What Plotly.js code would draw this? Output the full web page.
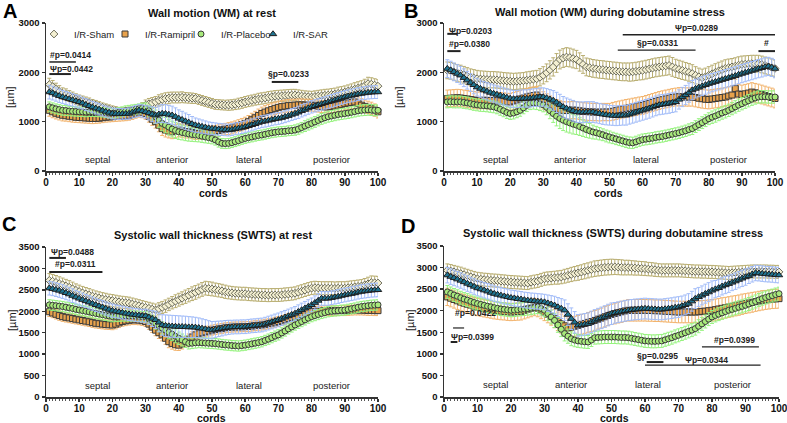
<!DOCTYPE html>
<html><head><meta charset="utf-8">
<script src="https://cdn.plot.ly/plotly-3.0.1.min.js"></script>
<style>html,body{margin:0;padding:0;background:#fff}#chart{width:787px;height:423px}</style>
</head><body><div id="chart"></div>
<script>
// ---------------- DATA ----------------
const groups = ["I/R-Sham", "I/R-Ramipril", "I/R-Placebo", "I/R-SAR"];
const regionLabels = ["septal", "anterior", "lateral", "posterior"];
const regionCords = [15.5, 38, 61, 86];
const panelTitles = ["Wall motion (WM) at rest", "Wall motion (WM) during dobutamine stress",
  "Systolic wall thickness (SWTS) at rest", "Systolic wall thickness (SWTS) during dobutamine stress"];
const panelLetters = ["A", "B", "C", "D"];
const cords = Array.from({length: 100}, (_, i) => i + 1);

// Panel A: wall motion at rest (µm)
const wmRestSham = [1750,1710,1660,1610,1570,1550,1520,1490,1460,1435,1420,1400,1380,1355,1335,1310,1290,1270,1250,1230,
 1215,1200,1195,1190,1200,1210,1220,1230,1280,1335,1360,1380,1400,1430,1450,1470,1480,1490,1490,1490,
 1495,1485,1480,1475,1470,1450,1430,1410,1390,1370,1350,1345,1340,1335,1335,1340,1350,1365,1380,1400,
 1415,1430,1445,1460,1470,1480,1495,1505,1515,1520,1525,1530,1535,1540,1540,1530,1520,1510,1505,1500,
 1510,1520,1525,1535,1540,1550,1560,1575,1585,1600,1620,1640,1660,1680,1700,1730,1770,1760,1740,1720];
const wmRestRamipril = [1230,1200,1170,1150,1130,1120,1110,1100,1090,1085,1080,1075,1070,1065,1065,1070,1080,1090,1095,1100,
 1105,1110,1115,1120,1130,1150,1175,1200,1190,1165,1110,1050,1000,930,860,830,810,795,810,830,
 815,800,795,780,760,765,770,780,790,795,805,820,835,850,860,875,895,920,940,965,
 1000,1040,1080,1125,1165,1195,1220,1245,1270,1290,1305,1315,1325,1330,1335,1340,1340,1335,1335,1335,
 1325,1315,1305,1300,1300,1310,1320,1335,1350,1370,1380,1390,1400,1370,1335,1310,1290,1270,1235,1200];
const wmRestPlacebo = [1300,1280,1260,1245,1230,1225,1215,1210,1205,1200,1200,1195,1200,1200,1200,1195,1190,1180,1170,1165,
 1175,1190,1205,1220,1230,1240,1250,1260,1270,1270,1220,1160,1100,1030,965,930,890,850,820,795,
 780,765,750,740,730,720,705,690,675,660,630,590,560,555,560,575,595,615,640,660,
 675,690,705,720,730,745,760,775,785,795,800,805,815,820,830,850,880,910,940,965,
 995,1025,1055,1080,1100,1115,1130,1145,1155,1165,1175,1190,1205,1220,1230,1235,1240,1235,1230,1230];
const wmRestSAR = [1600,1580,1550,1525,1500,1480,1460,1440,1420,1400,1375,1345,1320,1295,1270,1250,1225,1205,1185,1165,
 1160,1155,1160,1160,1165,1190,1210,1230,1215,1200,1175,1150,1130,1150,1165,1160,1145,1130,1100,1065,
 1040,1010,985,955,930,915,900,885,870,860,855,845,840,835,830,840,855,865,880,895,
 915,935,955,980,1000,1010,1025,1040,1055,1065,1080,1100,1120,1145,1165,1190,1220,1245,1275,1300,
 1320,1340,1360,1380,1400,1420,1440,1460,1480,1500,1515,1530,1545,1560,1570,1580,1590,1595,1600,1600];

// Panel B: wall motion during dobutamine stress (µm)
const wmStressSham = [2040,2030,2010,1990,1975,1950,1925,1900,1885,1870,1865,1860,1855,1850,1850,1845,1840,1830,1825,1820,
 1815,1820,1825,1830,1840,1850,1860,1870,1900,1940,1990,2050,2110,2190,2260,2290,2310,2300,2280,2260,
 2210,2160,2110,2095,2080,2070,2060,2055,2045,2040,2030,2025,2015,2010,2010,2005,2010,2020,2030,2040,
 2055,2070,2085,2100,2110,2120,2130,2140,2110,2080,2060,2040,2020,2000,1975,1940,1910,1890,1910,1940,
 1970,2000,2030,2055,2080,2095,2110,2125,2145,2160,2165,2170,2175,2175,2175,2160,2140,2120,2100,2080];
const wmStressRamipril = [1470,1475,1480,1485,1480,1470,1460,1450,1440,1430,1430,1435,1430,1430,1430,1425,1420,1415,1405,1400,
 1420,1440,1460,1480,1500,1515,1530,1540,1490,1430,1390,1345,1300,1275,1250,1230,1225,1230,1235,1230,
 1220,1210,1205,1200,1195,1195,1190,1195,1195,1195,1210,1225,1240,1255,1270,1280,1295,1305,1320,1330,
 1350,1370,1390,1410,1430,1445,1460,1475,1490,1500,1505,1505,1500,1500,1500,1490,1475,1465,1455,1450,
 1460,1470,1480,1490,1500,1520,1540,1670,1560,1550,1565,1580,1600,1585,1570,1550,1530,1510,1490,1470];
const wmStressPlacebo = [1400,1405,1400,1400,1400,1390,1380,1365,1350,1340,1330,1325,1320,1310,1300,1280,1250,1220,1185,1165,
 1175,1200,1230,1280,1330,1370,1380,1375,1360,1340,1290,1225,1165,1110,1065,1030,1000,975,950,930,
 900,870,840,815,790,775,755,735,710,690,670,650,630,610,590,575,570,590,615,635,
 645,655,665,680,690,700,715,730,745,760,775,795,815,840,860,900,940,980,1020,1060,
 1090,1115,1145,1175,1200,1230,1265,1300,1335,1365,1395,1425,1455,1480,1500,1505,1505,1500,1500,1500];
const wmStressSAR = [2075,2045,2010,1975,1940,1890,1840,1790,1745,1700,1670,1640,1615,1590,1570,1550,1530,1510,1490,1470,
 1460,1460,1465,1470,1470,1475,1485,1490,1500,1500,1480,1455,1430,1390,1345,1300,1270,1245,1220,1195,
 1190,1190,1195,1195,1195,1180,1165,1150,1140,1130,1125,1120,1125,1130,1130,1150,1170,1190,1210,1230,
 1250,1270,1295,1320,1340,1350,1360,1370,1385,1400,1450,1500,1540,1590,1640,1670,1695,1720,1745,1770,
 1790,1810,1830,1850,1870,1890,1910,1930,1955,1975,1995,2015,2035,2055,2075,2090,2110,2120,2100,2075];

// Panel C: systolic wall thickness at rest (µm)
const swtsRestSham = [2720,2700,2675,2645,2620,2590,2560,2525,2490,2460,2430,2405,2380,2355,2330,2310,2290,2275,2260,2250,
 2235,2220,2210,2200,2190,2170,2150,2130,2110,2090,2070,2050,2030,2060,2090,2120,2160,2200,2235,2270,
 2305,2340,2375,2410,2440,2475,2510,2540,2530,2520,2505,2490,2475,2455,2440,2430,2420,2415,2410,2410,
 2400,2395,2390,2385,2380,2380,2375,2380,2380,2380,2385,2395,2400,2410,2420,2445,2470,2495,2520,2540,
 2550,2545,2540,2540,2540,2540,2535,2540,2540,2540,2550,2560,2570,2580,2590,2615,2640,2670,2665,2660];
const swtsRestRamipril = [1990,1960,1930,1900,1875,1860,1845,1830,1815,1800,1785,1770,1755,1735,1720,1710,1700,1690,1685,1680,
 1700,1730,1760,1775,1790,1800,1800,1795,1780,1760,1700,1630,1560,1500,1450,1370,1290,1250,1220,1210,
 1240,1290,1350,1400,1450,1475,1500,1520,1540,1560,1575,1590,1600,1615,1625,1630,1635,1635,1640,1640,
 1645,1655,1665,1675,1680,1695,1710,1725,1745,1760,1780,1805,1830,1850,1875,1900,1925,1950,1970,1990,
 2000,2005,2010,2015,2015,2015,2010,2015,2015,2015,2020,2025,2030,2030,2030,2025,2020,2020,2015,2015];
const swtsRestPlacebo = [2150,2140,2130,2120,2110,2095,2080,2065,2045,2030,2015,2000,1985,1965,1950,1935,1920,1905,1890,1875,
 1880,1885,1890,1890,1890,1890,1885,1880,1875,1875,1830,1775,1720,1665,1610,1560,1510,1465,1415,1370,
 1330,1290,1250,1255,1265,1270,1265,1260,1255,1250,1245,1235,1225,1215,1210,1200,1195,1190,1200,1210,
 1225,1240,1255,1270,1290,1320,1350,1385,1420,1450,1495,1540,1590,1635,1680,1720,1760,1800,1840,1875,
 1900,1925,1950,1970,1990,2000,2010,2015,2025,2030,2045,2060,2075,2095,2110,2120,2130,2140,2145,2150];
const swtsRestSAR = [2540,2525,2505,2485,2460,2430,2400,2365,2330,2300,2270,2240,2210,2180,2150,2120,2095,2065,2040,2015,
 2000,1985,1970,1950,1935,1925,1915,1905,1895,1890,1860,1830,1800,1740,1680,1665,1655,1650,1645,1640,
 1640,1635,1630,1630,1625,1615,1600,1585,1570,1560,1575,1590,1600,1615,1625,1630,1635,1635,1640,1640,
 1650,1660,1665,1675,1680,1700,1725,1750,1775,1800,1830,1860,1890,1920,1950,1990,2030,2070,2110,2150,
 2200,2250,2300,2300,2300,2315,2330,2345,2365,2380,2395,2410,2425,2445,2460,2470,2480,2490,2495,2500];

// Panel D: systolic wall thickness during dobutamine stress (µm)
const swtsStressSham = [2935,2920,2900,2880,2860,2835,2810,2785,2760,2740,2730,2720,2715,2705,2700,2695,2685,2680,2670,2665,
 2660,2655,2650,2645,2640,2660,2675,2690,2715,2740,2750,2755,2765,2770,2780,2800,2820,2840,2860,2875,
 2895,2915,2935,2955,2975,2985,2995,3005,3010,3015,3015,3010,3005,3000,3000,2995,2990,2985,2980,2975,
 2965,2960,2950,2940,2935,2935,2935,2935,2935,2935,2930,2925,2920,2915,2910,2910,2905,2905,2900,2900,
 2895,2890,2885,2880,2875,2880,2885,2890,2895,2900,2905,2910,2910,2910,2910,2910,2905,2905,2900,2900];
const swtsStressRamipril = [2320,2290,2260,2230,2200,2175,2150,2130,2105,2085,2070,2055,2040,2025,2010,2000,1990,1985,1975,1970,
 1975,1980,1985,2010,2035,2060,2085,2060,2015,1970,1920,1870,1815,1755,1700,1650,1600,1620,1640,1660,
 1685,1705,1730,1750,1775,1805,1830,1860,1890,1915,1935,1955,1975,1995,2010,2010,2010,2010,2010,2010,
 2005,2005,2000,2000,1995,1990,1985,1980,1975,1970,1970,1970,1970,1970,1970,1975,1985,1990,2000,2010,
 2025,2040,2055,2070,2085,2100,2115,2130,2150,2165,2180,2195,2210,2225,2240,2250,2260,2270,2275,2280];
const swtsStressPlacebo = [2435,2400,2365,2335,2300,2270,2245,2215,2190,2165,2145,2125,2105,2090,2070,2055,2040,2030,2020,2010,
 2015,2025,2035,2040,2050,2060,2075,2085,2050,2010,1935,1855,1775,1670,1570,1470,1410,1350,1320,1300,
 1290,1280,1275,1320,1375,1380,1385,1390,1390,1390,1390,1385,1380,1380,1375,1360,1345,1330,1315,1300,
 1295,1290,1290,1295,1300,1325,1350,1375,1405,1430,1460,1490,1520,1550,1585,1640,1695,1750,1805,1855,
 1890,1920,1950,1980,2010,2030,2055,2080,2100,2125,2155,2185,2215,2250,2280,2305,2330,2350,2375,2395];
const swtsStressSAR = [2825,2790,2760,2730,2700,2665,2630,2595,2560,2525,2500,2475,2450,2420,2395,2375,2355,2335,2320,2300,
 2290,2275,2265,2250,2240,2230,2225,2215,2210,2200,2175,2150,2125,2085,2050,2010,1910,1815,1730,1660,
 1670,1685,1700,1740,1775,1805,1835,1865,1900,1930,1950,1965,1980,1995,2010,2020,2030,2035,2045,2050,
 2045,2040,2035,2030,2030,2040,2050,2060,2075,2085,2110,2135,2165,2220,2280,2320,2355,2395,2430,2470,
 2500,2530,2565,2595,2625,2655,2685,2720,2750,2780,2810,2845,2875,2870,2860,2850,2845,2840,2830,2825];

// SEM values (µm)
const eWmRestSham = [130,125,120,120,115,115,110,110,105,105,100,100,100,95,95,95,90,90,90,90,
 90,90,90,95,95,100,100,100,105,105,110,110,110,115,115,115,115,110,110,110,110,105,105,105,100,100,100,100,100,100,
 100,100,100,100,105,105,105,110,110,110,110,110,110,115,115,115,115,115,115,115,115,115,115,115,115,115,115,115,115,115,
 115,115,120,120,120,120,120,125,125,125,125,125,130,130,130,130,130,130,130,130];
const eWmRestRamipril = [120,120,115,115,115,110,110,110,105,105,105,105,105,105,100,100,100,100,100,100,
 100,100,100,100,100,105,105,110,110,115,120,125,130,135,140,140,140,140,135,135,130,130,125,125,120,120,120,115,115,115,
 115,115,115,115,120,120,120,120,125,125,125,130,130,130,130,130,130,130,125,125,125,125,125,125,120,120,120,120,120,120,
 120,120,120,120,125,125,125,125,130,130,130,130,130,130,130,130,125,125,125,125];
const eWmRestPlacebo = [100,100,100,100,100,100,95,95,95,95,95,95,95,95,95,95,95,95,95,95,
 95,95,95,100,100,100,100,100,105,110,115,125,135,145,150,155,160,160,160,155,150,150,145,140,135,130,125,120,115,110,
 105,105,100,100,100,100,100,100,100,100,100,100,100,100,100,100,100,100,100,100,100,100,100,100,105,105,105,110,110,110,
 110,110,110,110,110,110,110,110,110,110,110,110,110,110,110,110,110,110,110,110];
const eWmRestSAR = [140,140,135,135,130,130,130,125,125,125,120,120,120,115,115,115,110,110,110,110,
 110,110,110,110,115,115,120,120,125,130,140,150,160,170,180,185,185,185,180,175,170,165,160,150,145,140,135,130,125,125,
 120,120,120,120,120,120,120,120,120,120,120,120,120,120,120,120,120,120,120,120,120,120,120,120,120,125,125,125,125,125,
 125,125,125,125,130,130,130,130,130,130,130,130,130,130,130,130,130,130,130,130];
const eWmStressSham = [170,170,170,170,170,170,170,170,170,170,165,165,165,165,165,165,165,165,165,165,
 165,165,165,165,170,170,170,170,175,175,180,185,185,190,190,190,190,190,190,185,185,180,180,180,180,180,180,180,180,180,
 180,180,180,180,180,185,185,185,185,190,190,190,190,190,190,190,190,190,190,185,185,185,180,180,180,175,175,175,175,175,
 175,175,175,175,175,175,170,170,170,170,170,170,170,170,170,170,170,170,170,170];
const eWmStressRamipril = [170,170,170,170,170,170,170,170,170,170,170,170,170,170,170,170,170,170,170,170,
 170,170,170,175,175,175,175,175,175,175,175,175,175,175,175,175,175,175,175,175,175,175,175,175,175,175,175,175,175,175,
 180,180,180,180,180,180,180,180,180,180,180,180,180,180,180,180,180,180,180,180,185,185,185,185,185,190,190,190,190,190,
 190,190,190,190,190,190,190,190,190,190,190,190,190,190,190,190,190,190,190,190];
const eWmStressPlacebo = [120,120,120,120,120,120,120,120,120,120,120,120,120,120,120,120,120,120,120,120,
 120,120,120,120,125,125,125,130,135,140,150,165,180,195,205,210,210,205,200,190,180,170,160,150,140,130,125,120,120,120,
 115,115,115,115,115,115,115,115,115,115,115,115,115,115,115,115,115,115,115,115,115,115,115,115,120,120,120,120,120,120,
 125,125,125,125,125,125,125,125,125,125,125,125,125,125,125,125,125,125,125,125];
const eWmStressSAR = [180,180,180,180,180,180,180,180,180,180,175,175,175,175,175,175,175,175,175,175,
 175,175,175,175,175,180,180,180,185,185,190,195,200,205,210,210,210,210,210,210,210,210,210,210,210,205,205,205,205,200,
 200,200,200,200,200,200,200,200,200,200,200,200,200,200,200,200,200,200,200,200,195,195,195,195,195,190,190,190,190,190,
 185,185,185,185,185,185,185,185,185,185,185,185,185,185,185,185,185,185,185,185];
const eSwtsRestSham = [160,160,160,160,155,155,155,155,150,150,150,150,150,145,145,145,145,145,140,140,
 140,140,140,140,140,140,140,140,140,140,140,140,140,140,140,145,145,145,150,150,150,155,155,160,160,160,160,160,160,160,
 155,155,155,155,150,150,150,150,150,150,150,150,150,150,150,150,150,150,150,150,150,150,150,150,150,150,150,150,150,150,
 150,150,150,150,150,150,150,150,150,150,150,150,150,150,150,150,155,155,155,155];
const eSwtsRestRamipril = [110,110,110,110,110,110,110,110,110,110,110,110,110,110,110,110,110,110,110,110,
 110,110,110,110,110,110,110,110,110,115,120,125,130,135,140,140,140,135,130,125,120,120,120,120,115,115,115,115,115,115,
 115,115,115,115,115,115,115,115,115,115,115,115,115,115,115,115,115,115,115,115,115,115,115,115,115,115,115,115,115,115,
 115,115,115,115,115,115,115,115,115,115,115,115,115,115,115,115,115,115,115,115];
const eSwtsRestPlacebo = [120,120,120,120,120,120,120,120,120,120,120,120,120,120,120,120,120,120,120,120,
 120,120,120,120,120,120,120,120,120,120,125,130,135,140,145,150,150,150,150,145,140,135,130,125,125,120,120,120,120,120,
 120,120,120,120,120,120,120,120,120,120,120,120,120,120,120,120,120,120,120,120,120,120,120,120,120,120,120,120,120,120,
 120,120,120,120,120,120,120,120,120,120,120,120,120,120,120,120,120,120,120,120];
const eSwtsRestSAR = [160,160,160,160,160,160,160,160,160,160,155,155,155,155,155,155,155,155,155,155,
 150,150,150,150,150,150,150,150,150,160,170,185,200,220,240,250,255,255,255,255,250,250,245,240,235,230,225,220,210,200,
 190,180,175,170,165,160,160,160,160,160,160,160,160,160,160,160,160,160,160,160,160,160,160,160,160,160,160,160,160,160,
 160,160,160,160,160,160,160,160,160,160,160,160,160,160,160,160,160,160,160,160];
const eSwtsStressSham = [150,150,150,150,150,150,150,150,150,150,150,150,150,150,150,150,150,150,150,150,
 150,150,150,150,150,150,150,150,150,150,150,150,150,155,155,160,160,165,165,170,170,175,175,175,180,180,180,180,180,180,
 175,175,175,170,170,165,165,160,160,160,155,155,155,150,150,150,150,150,150,150,150,150,150,150,150,150,150,150,150,150,
 150,150,150,150,150,150,150,150,150,150,150,150,150,150,150,150,150,150,150,150];
const eSwtsStressRamipril = [200,200,200,200,200,200,200,200,200,200,200,200,200,200,200,200,200,200,200,200,
 200,200,200,200,200,200,200,200,200,200,200,205,210,215,220,225,230,230,230,230,230,230,230,230,230,230,230,235,235,235,
 240,240,245,245,250,250,250,250,250,250,250,250,250,250,250,250,250,250,250,250,250,250,250,250,250,250,250,250,250,250,
 245,245,245,240,240,240,235,235,235,230,230,230,225,225,225,220,220,220,220,220];
const eSwtsStressPlacebo = [150,150,150,150,150,150,150,150,150,150,150,150,150,150,150,150,150,150,150,150,
 150,150,150,150,150,150,150,150,150,150,155,160,165,170,170,170,165,160,155,150,150,150,150,150,150,150,150,150,150,150,
 150,150,150,150,150,150,150,150,150,150,150,150,150,150,150,150,150,150,150,150,150,150,150,150,150,150,150,150,150,150,
 150,150,150,150,150,150,150,150,150,150,150,150,150,150,150,150,150,150,150,150];
const eSwtsStressSAR = [180,180,180,180,180,180,180,180,180,180,180,180,180,180,180,180,180,180,180,180,
 180,180,180,180,180,180,180,180,180,180,190,200,210,220,230,240,250,250,250,250,250,250,250,250,250,250,250,250,250,250,
 240,240,240,240,240,240,240,240,240,240,240,240,240,240,240,240,240,240,240,240,230,230,230,230,230,220,220,220,220,220,
 200,200,200,200,200,190,190,190,190,190,180,180,180,180,180,180,180,180,180,180];

// ---------------- STYLE ----------------
const FONT = "Arial, 'Liberation Sans', sans-serif";
const styles = [
  {symbol: "diamond", fill: "#f4f0d2", line: "#6b6b5a", err: "#b9ae72"},
  {symbol: "square", fill: "#e8a24c", line: "#3a3a3a", err: "#f2b46e"},
  {symbol: "circle", fill: "#a8ea7c", line: "#3a3a3a", err: "#96f27e"},
  {symbol: "triangle-up", fill: "#1f7592", line: "#1e1e1e", err: "#a2bcf8"}
];
const panels = [
  {xa: "x", ya: "y", series: [wmRestSham, wmRestRamipril, wmRestPlacebo, wmRestSAR], err: [eWmRestSham, eWmRestRamipril, eWmRestPlacebo, eWmRestSAR]},
  {xa: "x2", ya: "y2", series: [wmStressSham, wmStressRamipril, wmStressPlacebo, wmStressSAR], err: [eWmStressSham, eWmStressRamipril, eWmStressPlacebo, eWmStressSAR]},
  {xa: "x3", ya: "y3", series: [swtsRestSham, swtsRestRamipril, swtsRestPlacebo, swtsRestSAR], err: [eSwtsRestSham, eSwtsRestRamipril, eSwtsRestPlacebo, eSwtsRestSAR]},
  {xa: "x4", ya: "y4", series: [swtsStressSham, swtsStressRamipril, swtsStressPlacebo, swtsStressSAR], err: [eSwtsStressSham, eSwtsStressRamipril, eSwtsStressPlacebo, eSwtsStressSAR]}
];

const traces = [];
panels.forEach((p, pi) => {
  p.series.forEach((vals, gi) => {
    const s = styles[gi];
    traces.push({
      type: "scatter", mode: "markers", x: cords, y: vals, xaxis: p.xa, yaxis: p.ya,
      name: groups[gi], showlegend: pi === 0, legend: gi === 0 ? "legend" : "legend" + (gi + 1),
      cliponaxis: false,
      marker: {symbol: s.symbol, size: gi === 3 ? 6.5 : 6, color: s.fill, line: {color: s.line, width: 1}},
      error_y: {type: "data", array: p.err[gi], visible: true, color: s.err, thickness: 1, width: 2}
    });
  });
});

const W = 787, H = 423;
const px = v => v / W, py = v => 1 - v / H;

function xax(d) {
  return {domain: d, range: [0, 100], dtick: 10, tick0: 0, showline: true, linecolor: "#333", linewidth: 1.5,
    ticks: "outside", ticklen: 3, tickwidth: 1.5, tickcolor: "#333", showgrid: false, zeroline: false,
    ticklabeloverflow: "allow", ticklabelstandoff: -2,
    minor: {dtick: 1, ticks: "outside", ticklen: 2, tickwidth: 1, tickcolor: "#555", showgrid: false},
    tickfont: {family: FONT, size: 10, color: "#111", weight: "bold"}, fixedrange: true};
}
function yax(d, max, dt, anchor) {
  return {domain: d, range: [0, max], dtick: dt, tick0: 0, anchor: anchor, showline: true, linecolor: "#333", linewidth: 1.5,
    ticks: "outside", ticklen: 3, tickwidth: 1.5, tickcolor: "#333", showgrid: false, zeroline: false,
    ticklabeloverflow: "allow",
    tickfont: {family: FONT, size: 9.5, color: "#111", weight: "bold"}, fixedrange: true};
}

const ann = [];
const shapes = [];
// Panel letters & titles
const letterPos = [[10, 11], [411, 11], [9, 224], [408, 226]];
const titlePos = [[212, 13], [609.5, 12], [212.5, 235], [613, 233]];
panelLetters.forEach((L, i) => {
  ann.push({xref: "paper", yref: "paper", x: px(letterPos[i][0]), y: py(letterPos[i][1]), text: L, showarrow: false,
    xanchor: "center", yanchor: "middle", font: {family: FONT, size: 20, color: "#000", weight: "bold"}});
  ann.push({xref: "paper", yref: "paper", x: px(titlePos[i][0]), y: py(titlePos[i][1]), text: panelTitles[i], showarrow: false,
    xanchor: "center", yanchor: "middle", font: {family: FONT, size: 11, color: "#111", weight: "bold"}});
});
// Axis titles
const cordsPos = [[213, 193], [608, 193], [212, 418], [614, 418]];
const umPos = [[10, 97], [399, 97], [12, 320], [410, 320]];
for (let i = 0; i < 4; i++) {
  ann.push({xref: "paper", yref: "paper", x: px(cordsPos[i][0]), y: py(cordsPos[i][1]), text: "cords", showarrow: false,
    xanchor: "center", yanchor: "middle", font: {family: FONT, size: 10.5, color: "#111", weight: "bold"}});
  ann.push({xref: "paper", yref: "paper", x: px(umPos[i][0]), y: py(umPos[i][1]), text: "[µm]", showarrow: false, textangle: -90,
    xanchor: "center", yanchor: "middle", font: {family: FONT, size: 11, color: "#222"}});
}
// Region labels
const regionY = [225, 225, 280, 280];
panels.forEach((p, i) => {
  regionLabels.forEach((r, k) => {
    ann.push({xref: p.xa, yref: p.ya, x: regionCords[k], y: regionY[i], text: r, showarrow: false,
      xanchor: "center", yanchor: "middle", font: {family: FONT, size: 9.5, color: "#222"}});
  });
});
// Significance labels and bars
function sig(pi, text, x, y, anchor) {
  const p = panels[pi];
  ann.push({xref: p.xa, yref: p.ya, x: x, y: y, text: text, showarrow: false, xanchor: anchor || "left", yanchor: "middle",
    font: {family: FONT, size: 8.5, color: "#222", weight: "bold"}});
}
function bar(pi, x0, x1, y, w) {
  const p = panels[pi];
  shapes.push({type: "line", xref: p.xa, yref: p.ya, x0: x0, x1: x1, y0: y, y1: y, line: {color: "#222", width: w || 1.5}});
}
sig(0, "#p=0.0414", 0.6, 2350); bar(0, 1, 9, 2210);
sig(0, "Ψp=0.0442", 0.6, 2070); bar(0, 1, 7.5, 1965, 2);
sig(0, "§p=0.0233", 66.3, 1965); bar(0, 68, 76, 1805, 2);

sig(1, "Ψp=0.0203", 0.9, 2840); bar(1, 1, 4, 2780, 2);
sig(1, "#p=0.0380", 0.9, 2575); bar(1, 1, 5, 2430, 2);
sig(1, "Ψp=0.0289", 69.2, 2900); bar(1, 54, 100, 2760, 1.5);
sig(1, "§p=0.0331", 57.7, 2595); bar(1, 52.5, 76, 2450, 1.2);
sig(1, "#", 97.3, 2595, "center"); bar(1, 95, 100, 2430, 2);

sig(2, "Ψp=0.0488", 0.9, 3385); bar(2, 1, 6, 3245, 2);
sig(2, "#p=0.0311", 2.1, 3105); bar(2, 1, 17, 2915, 2);

sig(3, "#p=0.0422", 2.7, 1945); bar(3, 2.7, 6, 1600, 1.2);
sig(3, "Ψp=0.0399", 1.5, 1390); bar(3, 2, 4, 1275, 2);
sig(3, "#p=0.0399", 80, 1320); bar(3, 77, 94, 1160, 1.2);
sig(3, "§p=0.0295", 57, 950); bar(3, 60.5, 65.5, 810, 2);
sig(3, "Ψp=0.0344", 71.3, 860); bar(3, 60, 94.5, 740, 1.2);

// Legends (one per group, positioned individually)
const legX = [34, 105, 181, 253];
const legendBase = {orientation: "h", yanchor: "middle", xanchor: "left", y: py(34), bgcolor: "rgba(0,0,0,0)",
  font: {family: FONT, size: 9.5, color: "#222"}, itemwidth: 30, tracegroupgap: 0};

const layout = {
  width: W, height: H, margin: {l: 0, r: 0, t: 0, b: 0}, paper_bgcolor: "#fff", plot_bgcolor: "#fff",
  showlegend: true,
  legend: Object.assign({}, legendBase, {x: px(legX[0])}),
  legend2: Object.assign({}, legendBase, {x: px(legX[1])}),
  legend3: Object.assign({}, legendBase, {x: px(legX[2])}),
  legend4: Object.assign({}, legendBase, {x: px(legX[3])}),
  xaxis: Object.assign(xax([px(46), px(378)]), {anchor: "y"}),
  yaxis: yax([py(171), py(23)], 3000, 1000, "x"),
  xaxis2: Object.assign(xax([px(444), px(775)]), {anchor: "y2"}),
  yaxis2: yax([py(171), py(23)], 3000, 1000, "x2"),
  xaxis3: Object.assign(xax([px(46), px(378)]), {anchor: "y3"}),
  yaxis3: yax([py(397), py(247)], 3500, 500, "x3"),
  xaxis4: Object.assign(xax([px(444), px(779)]), {anchor: "y4"}),
  yaxis4: yax([py(397), py(246)], 3500, 500, "x4"),
  annotations: ann, shapes: shapes
};

Plotly.newPlot("chart", traces, layout, {staticPlot: true, displayModeBar: false});
</script></body></html>
